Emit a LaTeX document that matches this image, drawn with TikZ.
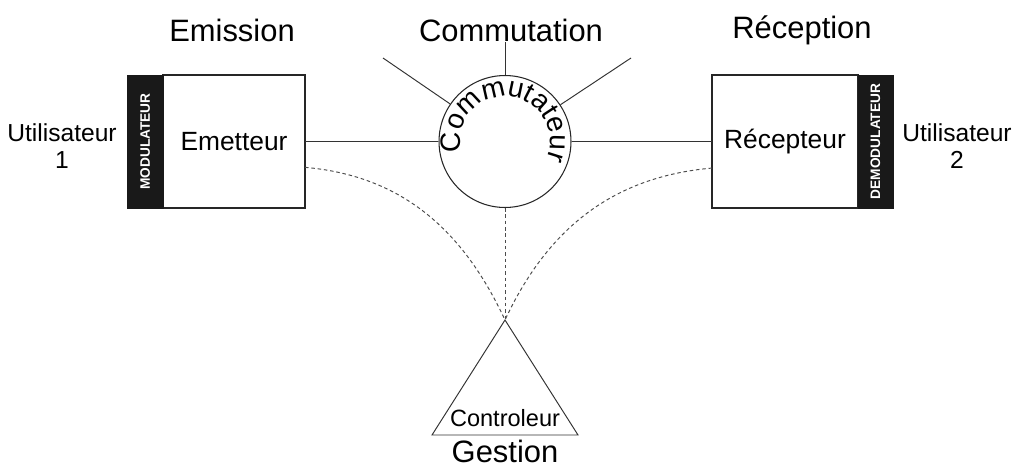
\documentclass[tikz,border=0pt]{standalone}
\usepackage{fontspec}
\setmainfont{Liberation Sans}
\usetikzlibrary{positioning,decorations.text}

\begin{document}
\begin{tikzpicture}[x=0.02cm,y=0.02cm,
    unit/.style={draw=black!85, line width=0.6pt, minimum height=2.66cm, inner sep=0pt, outer sep=0pt,
                 font=\fontsize{15}{15}\selectfont},
    strip/.style={draw=black!90, fill=black!90, minimum width=0.71cm, minimum height=2.66cm, inner sep=0pt,
                  outer sep=0pt, text=white, font=\bfseries\fontsize{7.8}{7.8}\selectfont},
    title/.style={font=\fontsize{17.6}{17.6}\selectfont},
    user/.style={align=center, font=\fontsize{14}{15}\selectfont},
    wire/.style={draw=black!80, line width=0.55pt},
    ctrl/.style={draw=black!70, line width=0.55pt, dash pattern=on 2pt off 1.6pt}]
    \useasboundingbox (0,0) rectangle (1017,468);

    % units
    \node[unit, minimum width=2.84cm] (emet) at (234,326.5) {Emetteur};
    \node[strip, left=0pt of emet] (modul) {\rotatebox{90}{MODULATEUR}};
    \node[unit, minimum width=2.92cm] (recep) at (785,326.5) {Récepteur};
    \node[strip, right=0pt of recep, minimum width=0.70cm] (demod) {\rotatebox{90}{DEMODULATEUR}};
    \node[circle, draw=black!85, line width=0.6pt, minimum size=2.64cm, inner sep=0pt] (comm) at (505,326.5) {};
    \path[decorate, decoration={text along path, text align=center,
          text={|\fontsize{16}{16}\selectfont|Commutateur}}]
        (comm.center) ++(193:45) arc[start angle=193, end angle=-23, radius=45];

    % controller
    \coordinate (apex) at (505,148);
    \coordinate (bl) at (432,33);
    \coordinate (br) at (578,33);
    \draw[wire] (apex) -- (br) -- (bl) -- cycle;
    \node[font=\fontsize{13.4}{13.4}\selectfont] (contr) at (505,50) {Controleur};

    % titles and users
    \node[title] (emis) at (232,438) {Emission};
    \node[title] (commu) at (511,438) {Commutation};
    \node[title] (recp) at (802,438) {Réception};
    \node[title] (gest) at (505,17) {Gestion};
    \node[user] (u1) at (62,322) {Utilisateur\\1};
    \node[user] (u2) at (957,322) {Utilisateur\\2};

    % lines
    \coordinate (t1) at (383,410);
    \coordinate (t2) at (505,426);
    \coordinate (t3) at (631,410);
    \draw[wire] (t1) -- (comm);
    \draw[wire] (t2) -- (comm);
    \draw[wire] (t3) -- (comm);
    \draw[wire] (emet) -- (comm);
    \draw[wire] (comm) -- (recep);

    \draw[ctrl] (emet.-20) to[out=-5, in=115] (apex);
    \draw[ctrl] (recep.200) to[out=185, in=65] (apex);
    \draw[ctrl] (comm.south) -- (apex);
\end{tikzpicture}
\end{document}
